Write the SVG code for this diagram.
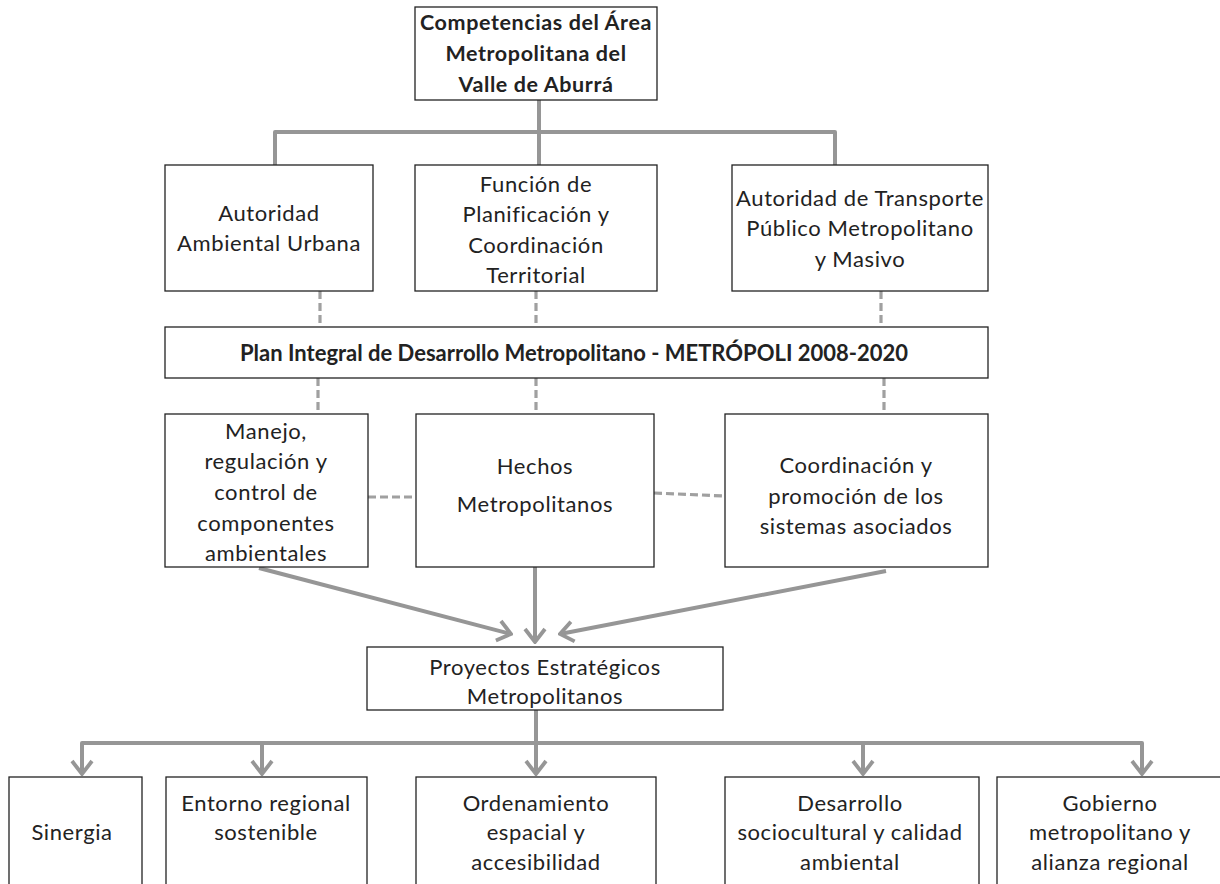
<svg xmlns="http://www.w3.org/2000/svg" width="1220" height="884" viewBox="0 0 1220 884">
<defs>
<style>
.box{fill:#fff;stroke:#222;stroke-width:1.3}
.t{font-family:Lato,"Open Sans",sans-serif;font-size:22px;letter-spacing:0.6px;fill:#222;text-anchor:middle}
.b{font-weight:bold;letter-spacing:0}
.c{fill:none;stroke:#969696;stroke-width:4;stroke-linejoin:round}
.d{fill:none;stroke:#a0a0a0;stroke-width:3.2;stroke-dasharray:8,4}
</style>
<marker id="v" viewBox="-16 -12 18 24" refX="0" refY="0" markerWidth="18" markerHeight="24" markerUnits="userSpaceOnUse" orient="auto">
<path d="M-13,-10 L0,0 L-13,10" fill="none" stroke="#969696" stroke-width="3.8"/>
</marker>
</defs>
<rect width="1220" height="884" fill="#fff"/>
<g id="connectors">
<path class="c" d="M539,100 V132 M275,165 V132 H835 V165 M539,132 V165"/>
<path class="d" d="M320,291 V327 M536,291 V327 M881,291 V327"/>
<path class="d" d="M318,378 V414 M536,378 V414 M884,378 V414"/>
<path class="d" d="M368,497 H416 M654,493 L725,496"/>
<path class="c" d="M259,568 L511,634" marker-end="url(#v)"/>
<path class="c" d="M535,567 V642" marker-end="url(#v)"/>
<path class="c" d="M886,571 L560,634" marker-end="url(#v)"/>
<path class="c" d="M536,710 V743 M82,773 V743 H1142 V773"/>
<path class="c" d="M82,755 V774" marker-end="url(#v)"/>
<path class="c" d="M262,743 V774" marker-end="url(#v)"/>
<path class="c" d="M536,743 V774" marker-end="url(#v)"/>
<path class="c" d="M863,743 V774" marker-end="url(#v)"/>
<path class="c" d="M1142,755 V774" marker-end="url(#v)"/>
</g>
<g id="n-top"><rect class="box" x="415" y="7" width="242" height="93"/>
<text class="t b" x="536" y="30" style="font-size:21.5px;letter-spacing:0.6px">Competencias del Área</text>
<text class="t b" x="536" y="61" style="font-size:21.5px;letter-spacing:0.6px">Metropolitana del</text>
<text class="t b" x="536" y="92" style="font-size:21.5px;letter-spacing:0.6px">Valle de Aburrá</text></g>
<g id="n-aau"><rect class="box" x="165" y="165" width="208" height="126"/>
<text class="t" x="269" y="221">Autoridad</text>
<text class="t" x="269" y="251">Ambiental Urbana</text></g>
<g id="n-fpc"><rect class="box" x="415" y="165" width="242" height="126"/>
<text class="t" x="536" y="192">Función de</text>
<text class="t" x="536" y="222">Planificación y</text>
<text class="t" x="536" y="253">Coordinación</text>
<text class="t" x="536" y="283">Territorial</text></g>
<g id="n-atp"><rect class="box" x="732" y="165" width="256" height="126"/>
<text class="t" x="860" y="206">Autoridad de Transporte</text>
<text class="t" x="860" y="236">Público Metropolitano</text>
<text class="t" x="860" y="267">y Masivo</text></g>
<g id="n-plan"><rect class="box" x="165" y="327" width="823" height="51"/>
<text class="t b" x="574" y="361">Plan Integral de Desarrollo Metropolitano - METRÓPOLI 2008-2020</text></g>
<g id="n-man"><rect class="box" x="165" y="414" width="203" height="153"/>
<text class="t" x="266" y="439">Manejo,</text>
<text class="t" x="266" y="469">regulación y</text>
<text class="t" x="266" y="500">control de</text>
<text class="t" x="266" y="531">componentes</text>
<text class="t" x="266" y="561">ambientales</text></g>
<g id="n-hechos"><rect class="box" x="416" y="414" width="238" height="153"/>
<text class="t" x="535" y="474">Hechos</text>
<text class="t" x="535" y="512">Metropolitanos</text></g>
<g id="n-coord"><rect class="box" x="725" y="414" width="263" height="153"/>
<text class="t" x="856" y="473">Coordinación y</text>
<text class="t" x="856" y="504">promoción de los</text>
<text class="t" x="856" y="534">sistemas asociados</text></g>
<g id="n-proy"><rect class="box" x="367" y="647" width="356" height="63"/>
<text class="t" x="545" y="675">Proyectos Estratégicos</text>
<text class="t" x="545" y="704">Metropolitanos</text></g>
<g id="n-sin"><rect class="box" x="9" y="777" width="133" height="120"/>
<text class="t" x="72" y="840">Sinergia</text></g>
<g id="n-ent"><rect class="box" x="166" y="777" width="201" height="120"/>
<text class="t" x="266" y="811">Entorno regional</text>
<text class="t" x="266" y="840">sostenible</text></g>
<g id="n-ord"><rect class="box" x="416" y="777" width="240" height="120"/>
<text class="t" x="536" y="811">Ordenamiento</text>
<text class="t" x="536" y="840">espacial y</text>
<text class="t" x="536" y="870">accesibilidad</text></g>
<g id="n-des"><rect class="box" x="725" y="777" width="254" height="120"/>
<text class="t" x="850" y="811">Desarrollo</text>
<text class="t" x="850" y="840">sociocultural y calidad</text>
<text class="t" x="850" y="870">ambiental</text></g>
<g id="n-gob"><rect class="box" x="997" y="777" width="230" height="120"/>
<text class="t" x="1110" y="811">Gobierno</text>
<text class="t" x="1110" y="840">metropolitano y</text>
<text class="t" x="1110" y="870">alianza regional</text></g>
</svg>
